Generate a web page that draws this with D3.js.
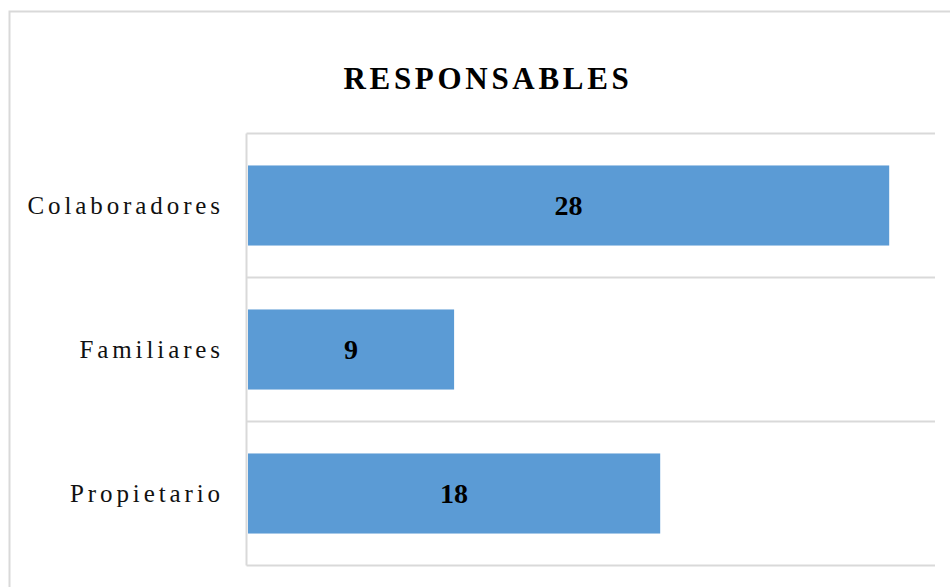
<!DOCTYPE html>
<html>
<head>
<meta charset="utf-8">
<script src="https://cdn.jsdelivr.net/npm/d3@7"></script>
<style>
  html, body { margin: 0; padding: 0; background: #fff; }
  svg { display: block; }
</style>
</head>
<body>
<svg id="chart" width="950" height="587"></svg>
<script>
// Responsables por categoría
const categories = ["Colaboradores", "Familiares", "Propietario"];
const values = [28, 9, 18];
const axisMax = 30;
const title = "RESPONSABLES";

const svg = d3.select("#chart");
const W = 950, H = 587;
const plot = { left: 246.5, right: 935, top: 133.5, bottom: 565.5 };
const grid = "#d9d9d9";
const serif = "'Liberation Serif', 'Times New Roman', serif";

// chart frame
svg.append("rect")
  .attr("x", 9.5).attr("y", 11.5)
  .attr("width", W + 20).attr("height", H + 20)
  .attr("fill", "#fff").attr("stroke", grid).attr("stroke-width", 2);

// title
svg.append("text")
  .attr("x", 488).attr("y", 89)
  .attr("text-anchor", "middle")
  .style("font-family", serif)
  .style("font-weight", "bold")
  .style("font-size", "31px")
  .style("letter-spacing", "3.7px")
  .text(title);

const x = d3.scaleLinear().domain([0, axisMax]).range([plot.left + 1.5, plot.right]);
const y = d3.scaleBand().domain(categories)
  .range([plot.top, plot.bottom])
  .paddingInner(0.444).paddingOuter(0.222);

// horizontal gridlines on category boundaries
const bounds = d3.range(categories.length + 1).map(i => plot.top + i * y.step());
svg.append("g").selectAll("line").data(bounds).join("line")
  .attr("x1", plot.left).attr("x2", plot.right)
  .attr("y1", d => d).attr("y2", d => d)
  .attr("stroke", grid).attr("stroke-width", 2);

// vertical category axis line
svg.append("line")
  .attr("x1", plot.left).attr("x2", plot.left)
  .attr("y1", plot.top).attr("y2", plot.bottom)
  .attr("stroke", grid).attr("stroke-width", 2);

// bars
svg.append("g").selectAll("rect").data(categories).join("rect")
  .attr("x", x(0))
  .attr("y", d => y(d))
  .attr("width", (d, i) => x(values[i]) - x(0))
  .attr("height", y.bandwidth())
  .attr("fill", "#5b9bd5");

// value labels inside bars
svg.append("g").selectAll("text").data(categories).join("text")
  .attr("x", (d, i) => (x(0) + x(values[i])) / 2)
  .attr("y", d => y(d) + y.bandwidth() / 2)
  .attr("dy", "0.35em")
  .attr("text-anchor", "middle")
  .style("font-family", serif)
  .style("font-weight", "bold")
  .style("font-size", "28px")
  .text((d, i) => values[i]);

// category labels
svg.append("g").selectAll("text").data(categories).join("text")
  .attr("x", 224)
  .attr("y", d => y(d) + y.bandwidth() / 2)
  .attr("dy", "0.35em")
  .attr("text-anchor", "end")
  .style("font-family", serif)
  .style("font-size", "25px")
  .style("letter-spacing", "3.9px")
  .attr("fill", "#111")
  .text(d => d);
</script>
</body>
</html>
